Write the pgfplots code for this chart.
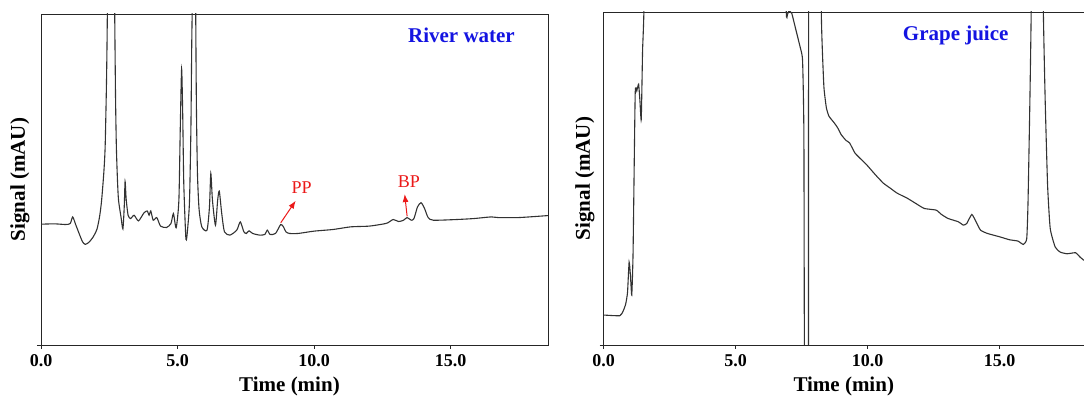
\documentclass[border=0pt]{standalone}
\usepackage{pgfplots}
\pgfplotsset{compat=1.18}
\usetikzlibrary{arrows.meta}
\usepackage{fontspec}
\setmainfont{Liberation Serif}
\definecolor{trace}{RGB}{50,50,50}
\definecolor{titleblue}{RGB}{20,20,225}
\definecolor{annred}{RGB}{235,25,25}

\pgfplotstableread{
t y
0 36.5
0.5 36.6
0.9 36.4
1.07 36.7
1.16 38.7
1.26 36.6
1.4 33.6
1.52 31.2
1.62 30.4
1.75 31.0
1.9 32.5
2.05 35.0
2.15 39.0
2.22 43.7
2.3 52
2.35 60
2.40 80
2.43 100
2.48 150
2.65 150
2.70 100
2.73 75
2.76 60
2.80 50
2.84 43.7
2.93 38.7
3.0 35.1
3.05 42
3.08 49.4
3.12 44
3.19 39.2
3.28 38.2
3.41 39.2
3.57 37.5
3.77 39.9
3.89 40.5
3.96 39.2
4.02 40.5
4.11 37.7
4.24 38.5
4.38 35.9
4.6 35.5
4.76 36.7
4.85 39.7
4.95 35.4
5.05 43.7
5.1 65
5.15 83.4
5.19 70
5.23 48.7
5.31 31.9
5.38 36
5.44 43.7
5.49 65
5.52 90
5.55 110
5.58 150
5.64 150
5.66 110
5.69 73.9
5.73 52
5.79 41
5.89 35.7
6.08 34.7
6.17 41.7
6.22 51.8
6.28 43.7
6.39 36.2
6.47 43.7
6.53 46.5
6.62 39.7
6.72 34.2
6.92 33.2
7.17 34.7
7.30 37.2
7.43 34.2
7.52 33.7
7.62 34.5
7.75 33.7
8.01 33.2
8.2 33.4
8.29 34.7
8.39 33.4
8.59 33.7
8.78 36.4
8.88 35.7
8.97 34.2
9.10 33.7
9.42 33.7
10.0 34.4
10.7 34.9
11.35 35.7
12.0 35.9
12.5 36.5
12.7 36.9
12.9 37.9
13.1 37.3
13.28 37.7
13.41 38.5
13.56 37.7
13.66 38.2
13.79 41.7
13.92 43.0
14.05 41.2
14.18 38.5
14.37 37.7
15.2 37.9
15.85 38.2
16.49 38.7
16.75 38.5
17.5 38.5
18.57 39.1
}\river

\pgfplotstableread{
t y
0 9.0
0.62 8.8
0.75 10.3
0.84 12.3
0.91 15.8
0.97 24.9
1.02 20.9
1.07 15.0
1.12 27.9
1.20 75.3
1.26 76.3
1.33 78.3
1.38 73.3
1.43 67.7
1.48 88.4
1.53 100.5
1.6 150
6.8 150
6.92 100.5
6.97 99.3
7.02 100.3
7.13 99.6
7.26 95.5
7.45 89.4
7.54 85.4
7.59 63.2
7.62 -20
7.76 -20
7.79 150
8.22 150
8.25 100.5
8.29 88.4
8.35 77.3
8.44 71.3
8.54 68.7
8.74 66.7
8.87 65.2
9.0 63.2
9.19 61.4
9.32 60.7
9.52 57.7
9.70 56.2
9.97 54.1
10.3 51.1
10.6 48.6
10.86 47.1
11.12 45.6
11.5 44.1
11.83 42.5
12.15 41.0
12.6 40.5
12.8 39.2
13.05 38.0
13.44 37.0
13.63 36.0
13.76 36.5
13.95 39.2
14.11 37.0
14.28 34.5
14.54 33.5
15.0 32.5
15.38 31.6
15.7 31.2
15.9 30.2
16.03 31.9
16.08 43.0
16.15 73.3
16.20 100.5
16.25 150
16.6 150
16.66 100.5
16.73 73.3
16.82 48.1
16.92 35.0
17.11 29.4
17.3 27.9
17.56 27.4
17.88 27.7
18.05 26.4
18.2 25.4
}\grape

\pgfplotsset{
  chrom/.style={
    scale only axis,
    ymin=0, ymax=100,
    xmin=0,
    xtick={0,5,10,15},
    xticklabels={0.0,5.0,10.0,15.0},
    ytick={0}, yticklabels={},
    tick align=outside,
    xtick pos=bottom, ytick pos=left,
    major tick length=4pt,
    axis line style={line width=0.9pt, black!85},
    every tick/.style={line width=0.9pt, black!85},
    /pgf/number format/assume math mode=true,
    ticklabel style={font=\bfseries\fontsize{18}{18}\selectfont, black},
    xticklabel style={yshift=-2pt},
    label style={font=\bfseries\fontsize{21}{21}\selectfont, black},
    xlabel={Time (min)},
    ylabel={Signal (mAU)},
    xlabel style={at={(axis description cs:0.5,0)}, anchor=center, yshift=-41pt},
  },
}

\begin{document}
\begin{tikzpicture}
\useasboundingbox (0,0) rectangle (1084pt,398pt);
\begin{axis}[chrom,
  at={(41pt,53pt)}, anchor=south west,
  width=507pt, height=331pt,
  xmax=18.57,
  ylabel style={at={(axis description cs:-0.0414,0.5)}, anchor=center},
  xlabel style={xshift=-5pt},
]
\addplot[trace, line width=1.1pt, no marks, smooth, tension=0.4] table[x=t, y=y] {\river};
\draw[annred, line width=1pt, -{Latex[length=8pt,width=6pt]}] (axis cs:8.78,36.9) -- (axis cs:9.33,43.6);
\draw[annred, line width=1pt, -{Latex[length=8pt,width=6pt]}] (axis cs:13.41,38.9) -- (axis cs:13.32,45.6);
\node[annred, font=\fontsize{18}{18}\selectfont] at (axis cs:9.55,47.4) {PP};
\node[annred, font=\fontsize{18}{18}\selectfont] at (axis cs:13.47,49.4) {BP};
\node[titleblue, font=\bfseries\fontsize{21}{21}\selectfont] at (axis cs:15.4,93.7) {River water};
\end{axis}
\begin{axis}[chrom,
  at={(603.5pt,53pt)}, anchor=south west,
  width=480.5pt, height=333pt,
  xmax=18.2,
  axis x line*=box, axis y line*=left,
  ylabel style={at={(axis description cs:-0.0385,0.5)}, anchor=center},
]
\addplot[trace, line width=1.1pt, no marks, smooth, tension=0.3] table[x=t, y=y] {\grape};
\node[titleblue, font=\bfseries\fontsize{21}{21}\selectfont] at (axis cs:13.34,93.1) {Grape juice};
\end{axis}
\end{tikzpicture}
\end{document}
